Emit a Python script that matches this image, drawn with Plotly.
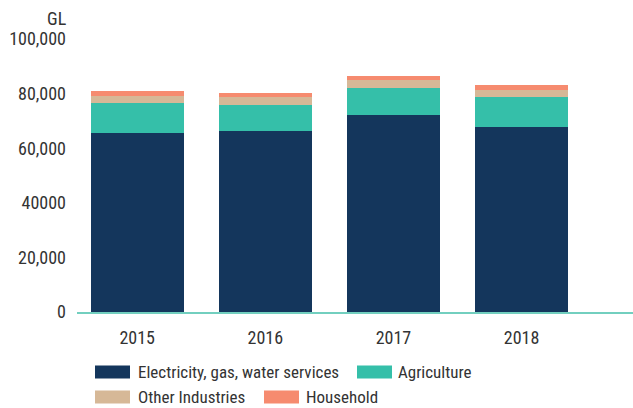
import plotly.graph_objects as go

years = ["2015", "2016", "2017", "2018"]
electricity = [65600, 66300, 72200, 67800]
agriculture = [11000, 9600, 9900, 11000]
other_industries = [2600, 2900, 2900, 2600]
household = [1800, 1500, 1500, 1800]

series_names = ["Electricity, gas, water services", "Agriculture", "Other Industries", "Household"]
series_colors = ["#14365c", "#35bfa9", "#d6b897", "#f68b6f"]

y_tickvals = [0, 20000, 40000, 60000, 80000, 100000]
y_ticktext = ["0", "20,000", "40000", "60,000", "80,000", "100,000"]

FONT = "Liberation Sans Narrow, Roboto Condensed, DejaVu Sans Condensed, Arial Narrow, sans-serif"
TXT = "#333333"

W, H = 633, 408
L, R, T, B = 77, 0, 39, 96
pw, ph = W - L - R, H - T - B

fig = go.Figure()
for name, vals, col in zip(series_names, [electricity, agriculture, other_industries, household], series_colors):
    fig.add_trace(go.Bar(x=years, y=vals, name=name, marker=dict(color=col, line=dict(width=0)),
                         showlegend=False))

def px2x(px):
    return (px - L) / pw

def py2y(py):
    return (H - B - py) / ph

# custom legend
legend_pos = [(95, 372, 138), (357, 372, 398), (95, 397, 138), (264, 397, 306)]
shapes = []
annotations = []
for (sx, cy, tx), name, col in zip(legend_pos, series_names, series_colors):
    shapes.append(dict(type="rect", xref="paper", yref="paper",
                       x0=px2x(sx), x1=px2x(sx + 35), y0=py2y(cy + 6.5), y1=py2y(cy - 6.5),
                       fillcolor=col, line=dict(width=0)))
    annotations.append(dict(xref="paper", yref="paper", x=px2x(tx - 2), y=py2y(cy), text=name,
                            showarrow=False, xanchor="left", yanchor="middle",
                            font=dict(family=FONT, size=17, color=TXT)))

annotations.append(dict(xref="paper", yref="paper", x=px2x(69), y=py2y(18), text="GL",
                        showarrow=False, xanchor="right", yanchor="middle",
                        font=dict(family=FONT, size=18, color=TXT)))

fig.update_layout(
    width=W, height=H,
    margin=dict(l=L, r=R, t=T, b=B, pad=0),
    barmode="stack", bargap=0.273,
    plot_bgcolor="white", paper_bgcolor="white",
    font=dict(family=FONT, size=18, color=TXT),
    shapes=shapes, annotations=annotations,
    showlegend=False,
    xaxis=dict(type="category", range=[-0.47, 3.87], showgrid=False, zeroline=False,
               showline=True, linecolor="#72cfbf", linewidth=2,
               ticks="", tickfont=dict(family=FONT, size=18, color=TXT), ticklabelstandoff=8),
    yaxis=dict(range=[0, 100000], tickvals=y_tickvals, ticktext=y_ticktext, showgrid=False,
               zeroline=False, showline=False, ticks="",
               tickfont=dict(family=FONT, size=18, color=TXT), ticklabelstandoff=10),
)

fig.write_html("out.html", config={"displayModeBar": False},
               post_script="document.body.style.margin='0';document.body.style.padding='0';")
